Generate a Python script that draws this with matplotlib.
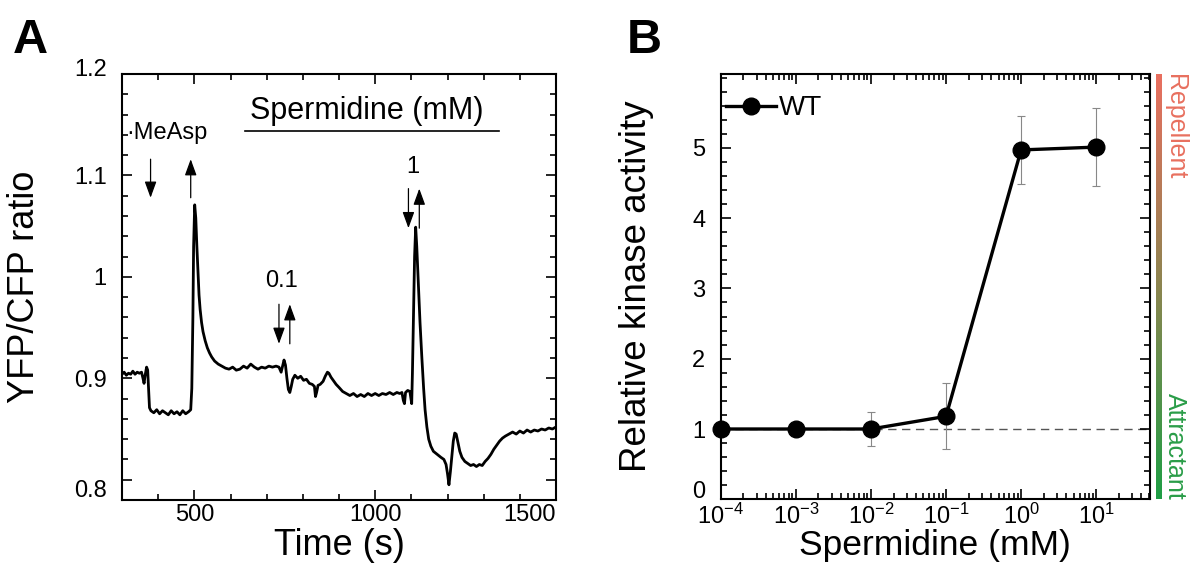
import numpy as np
import matplotlib
matplotlib.use('Agg')
import matplotlib.pyplot as plt
import matplotlib.transforms as mtransforms
from matplotlib.ticker import MultipleLocator, FixedLocator, FixedFormatter, LogLocator, NullFormatter
from matplotlib.colors import LinearSegmentedColormap

plt.rcParams['font.family'] = ['Liberation Sans', 'DejaVu Sans']
plt.rcParams['mathtext.default'] = 'regular'

# ---- panel A: FRET trace ----
time_s = [300, 306, 312, 318, 324, 330, 336, 342, 348, 354, 358, 361, 364, 368, 371, 374, 376,
          380, 388, 396, 404, 412, 420, 428, 436, 444, 452, 460, 468, 476, 484, 490,
          493, 496, 498, 501, 504, 507, 510, 513, 516, 520, 524, 530, 536, 542, 548, 556,
          566, 576, 586, 596, 606, 616, 626, 636, 646, 656, 666, 676, 686, 696, 706, 716,
          726, 734, 740, 744, 748, 752, 756, 760, 764, 768, 772, 778, 786, 794, 802, 810,
          818, 826, 832, 835, 838, 842, 848, 856, 862, 868, 872, 878, 884, 892, 900, 910,
          920, 930, 940, 950, 960, 970, 980, 990, 1000, 1010, 1020, 1030, 1040, 1050, 1060,
          1068, 1074, 1078, 1081, 1084, 1090, 1096, 1099, 1101, 1103, 1106, 1109, 1112, 1115,
          1119, 1124, 1129, 1134, 1138, 1143, 1148, 1154, 1161, 1168, 1175, 1182, 1190, 1196,
          1200, 1204, 1208, 1212, 1216, 1220, 1224, 1228, 1234, 1240, 1248, 1256, 1264, 1272,
          1280, 1288, 1296, 1304, 1312, 1320, 1328, 1336, 1344, 1352, 1360, 1370, 1380, 1390,
          1400, 1410, 1420, 1430, 1440, 1450, 1460, 1470, 1480, 1490, 1500]
ratio = [0.904, 0.906, 0.903, 0.905, 0.904, 0.907, 0.904, 0.906, 0.905, 0.906, 0.900, 0.895, 0.903, 0.911, 0.908, 0.885, 0.871,
         0.868, 0.866, 0.869, 0.865, 0.868, 0.866, 0.864, 0.868, 0.865, 0.867, 0.864, 0.868, 0.865, 0.867, 0.869,
         0.890, 0.960, 1.030, 1.071, 1.058, 1.030, 1.005, 0.982, 0.968, 0.955, 0.946, 0.937, 0.930, 0.925, 0.921, 0.917,
         0.914, 0.912, 0.910, 0.909, 0.911, 0.908, 0.909, 0.912, 0.910, 0.914, 0.911, 0.909, 0.911, 0.910, 0.912, 0.911,
         0.912, 0.911, 0.906, 0.912, 0.918, 0.913, 0.900, 0.889, 0.886, 0.892, 0.899, 0.903, 0.900, 0.902, 0.898, 0.899,
         0.895, 0.894, 0.892, 0.882, 0.886, 0.893, 0.894, 0.897, 0.902, 0.906, 0.905, 0.901, 0.898, 0.894, 0.891, 0.887,
         0.885, 0.883, 0.885, 0.882, 0.884, 0.882, 0.885, 0.883, 0.885, 0.883, 0.885, 0.884, 0.886, 0.884, 0.886,
         0.885, 0.886, 0.878, 0.875, 0.886, 0.888, 0.887, 0.880, 0.875, 0.905, 0.960, 1.020, 1.049, 1.030,
         0.996, 0.955, 0.921, 0.890, 0.869, 0.852, 0.840, 0.833, 0.828, 0.826, 0.824, 0.822, 0.820, 0.815,
         0.806, 0.795, 0.808, 0.823, 0.838, 0.846, 0.845, 0.838, 0.828, 0.822, 0.818, 0.816, 0.814, 0.815,
         0.813, 0.815, 0.814, 0.818, 0.821, 0.825, 0.830, 0.834, 0.838, 0.841, 0.843, 0.845, 0.847, 0.845,
         0.848, 0.846, 0.849, 0.847, 0.849, 0.848, 0.850, 0.849, 0.851, 0.850, 0.852]

yticks_a = [0.8, 0.9, 1.0, 1.1, 1.2]
yticklabels_a = ['0.8', '0.9', '1', '1.1', '1.2']
xticks_a = [500, 1000, 1500]

# (label, x, y_text, x_down, x_up, y_top, y_bottom)
stimuli = [('\u00b7MeAsp', 313, 1.142, 379, 490, 1.116, 1.078),
           ('0.1', 742, 0.996, 734, 764, 0.973, 0.934),
           ('1', 1103, 1.108, 1092, 1122, 1.087, 1.048)]

# ---- panel B: dose response ----
spermidine = [1e-4, 1e-3, 1e-2, 1e-1, 1e0, 1e1]
kinase = [1.0, 1.0, 1.0, 1.18, 4.97, 5.01]
kinase_err = [0.0, 0.0, 0.24, 0.47, 0.48, 0.55]
xticklabels_b = ['10$^{-4}$', '10$^{-3}$', '10$^{-2}$', '10$^{-1}$', '10$^{0}$', '10$^{1}$']

W, H = 1191, 563
fig = plt.figure(figsize=(W / 100, H / 100), dpi=100)


def px_axes(l, r, t, b):
    return fig.add_axes([l / W, (H - b) / H, (r - l) / W, (b - t) / H])


def style(ax):
    for s in ax.spines.values():
        s.set_linewidth(1.5)
    ax.tick_params(which='both', direction='in', top=True, right=True, labelsize=17, width=1.2)
    ax.tick_params(which='major', length=7)
    ax.tick_params(which='minor', length=4)
    ax.tick_params(axis='y', pad=11)
    ax.tick_params(axis='x', pad=3)


def nudge(label, dy_pt):
    label.set_transform(label.get_transform() +
                        mtransforms.ScaledTranslation(0, dy_pt / 72, fig.dpi_scale_trans))


# panel A
axA = px_axes(122, 556, 74, 500)
axA.plot(time_s, ratio, color='black', lw=2.0)
axA.set_xlim(300, 1500)
axA.set_ylim(0.78, 1.2)
axA.xaxis.set_major_locator(FixedLocator(xticks_a))
axA.xaxis.set_minor_locator(MultipleLocator(100))
axA.yaxis.set_major_locator(FixedLocator(yticks_a))
axA.yaxis.set_major_formatter(FixedFormatter(yticklabels_a))
axA.yaxis.set_minor_locator(MultipleLocator(0.02))
style(axA)
axA.get_xticklabels()[-1].set_horizontalalignment('right')
axA.set_xlabel('Time (s)', fontsize=26)
axA.set_ylabel('YFP/CFP ratio', fontsize=26)
axA.xaxis.set_label_coords(0.5, -0.065)
axA.yaxis.set_label_coords(-0.185, 0.5)

axA.text(977, 1.164, 'Spermidine (mM)', fontsize=22, ha='center', va='center')
axA.plot([640, 1342], [1.144, 1.144], color='black', lw=1.2)
arrow = dict(arrowstyle='-|>,head_length=0.55,head_width=0.2', color='black', lw=0.9,
             mutation_scale=18, shrinkA=0, shrinkB=0)
for lab, xt, yt, xd, xu, ytop, ybot in stimuli:
    axA.text(xt, yt, lab, fontsize=17, ha='center' if lab != '\u00b7MeAsp' else 'left', va='center')
    axA.annotate('', xy=(xd, ybot), xytext=(xd, ytop), arrowprops=arrow)
    axA.annotate('', xy=(xu, ytop), xytext=(xu, ybot), arrowprops=arrow)

# panel B
axB = px_axes(720.7, 1150, 74, 499.3)
axB.axhline(1.0, color='#555555', lw=1.0, dashes=(6, 4), zorder=1)
axB.errorbar(spermidine, kinase, yerr=kinase_err, fmt='none', ecolor='#888888', elinewidth=0.8,
             capsize=3, capthick=0.8, zorder=2)
axB.plot(spermidine, kinase, color='black', lw=2.4, marker='o', ms=12, label='WT', zorder=3, clip_on=False)
axB.set_xscale('log')
axB.set_xlim(1e-4, 52)
axB.set_ylim(0, 6.05)
axB.xaxis.set_major_locator(FixedLocator(spermidine))
axB.xaxis.set_major_formatter(FixedFormatter(xticklabels_b))
axB.xaxis.set_minor_locator(LogLocator(base=10, subs=np.arange(2, 10), numticks=20))
axB.xaxis.set_minor_formatter(NullFormatter())
axB.yaxis.set_major_locator(FixedLocator([0, 1, 2, 3, 4, 5]))
axB.yaxis.set_minor_locator(MultipleLocator(0.2))
style(axB)
axB.set_xlabel('Spermidine (mM)', fontsize=25.5)
axB.set_ylabel('Relative kinase activity', fontsize=26.5)
axB.xaxis.set_label_coords(0.5, -0.07)
axB.yaxis.set_label_coords(-0.155, 0.5)
axB.legend(loc='upper left', bbox_to_anchor=(0.012, 0.95), frameon=False, fontsize=20,
           handlelength=1.8, handletextpad=0.1, borderpad=0, borderaxespad=0)

fig.canvas.draw()
nudge(axB.get_yticklabels()[0], 7)
ylabs_a = axA.get_yticklabels()
nudge(ylabs_a[0], -6)
nudge(ylabs_a[-1], 5)

# repellent / attractant colour bar
axG = px_axes(1155.5, 1161, 74, 499.3)
cmap = LinearSegmentedColormap.from_list('ra', ['#EA6F60', '#8C8550', '#1F9E45'])
axG.imshow(np.linspace(0, 1, 256).reshape(-1, 1), aspect='auto', cmap=cmap)
axG.axis('off')
fig.text(1175 / W, (H - 74) / H, 'Repellent', rotation=270, fontsize=18, color='#E8705F', ha='center', va='top')
fig.text(1175 / W, (H - 500) / H, 'Attractant', rotation=270, fontsize=18, color='#2A9D48', ha='center', va='bottom')

fig.text(13 / W, (H - 53) / H, 'A', fontsize=35, fontweight='bold', ha='left', va='baseline')
fig.text(627 / W, (H - 53) / H, 'B', fontsize=35, fontweight='bold', ha='left', va='baseline')

fig.savefig('out.png', dpi=100)
